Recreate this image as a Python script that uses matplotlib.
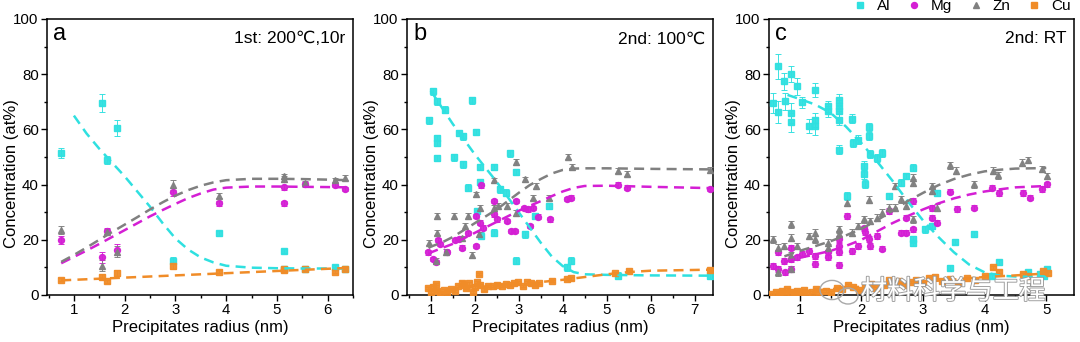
import matplotlib
matplotlib.use('Agg')
import matplotlib.pyplot as plt
import matplotlib.patheffects as pe
from matplotlib.lines import Line2D
from matplotlib.patches import Ellipse
from matplotlib.ticker import MultipleLocator

plt.rcParams['font.family'] = ['Liberation Sans', 'DejaVu Sans']

# ---- (a) 1st: 200C, 10r ----
a_r = [0.74, 1.55, 1.65, 1.85, 2.95, 3.85, 5.15, 5.15, 5.55, 6.15, 6.35]
a_al = [51.5, 69.5, 49, 60.5, 12.5, 22.3, 16, 9.5, 9.6, 10.2, 9.5]
a_mg = [19.8, 13.7, 23.2, 16.4, 37.4, 33.2, 33.2, 39, 40.1, 40, 38.5]
a_zn = [23.5, 10.6, 23, 15.6, 40, 36, 42, 43, 40.5, 41.5, 42.5]
a_cu = [5.5, 6.5, 5, 8, 10.5, 8.5, 9, 9.3, 9.5, 8.5, 9.5]
a_al_err = [1.8, 3.2, 1.5, 3, 1.2, 0.8, 0.8, 0.6, 0.6, 0.6, 0.6]
a_mg_err = [1.5, 2, 1, 2, 1.5, 1, 1, 0.8, 0.8, 0.8, 0.8]
a_zn_err = [1.5, 2, 1, 2, 1.8, 1, 1, 1, 0.8, 0.8, 0.8]
a_cu_err = [0.6, 1, 0.6, 1, 1, 0.6, 0.5, 0.5, 0.5, 0.5, 0.5]

a_fit_r = [0.75, 1.0, 1.25, 1.5, 1.75, 2.0, 2.25, 2.5, 2.75, 3.0, 3.25, 3.5, 3.75, 4.0, 4.5, 5.0, 5.5, 6.0, 6.4]
a_fit_al = [None, 65, 58.5, 53, 48, 43, 37.5, 32, 26, 20.5, 16.5, 13.6, 11.8, 10.6, 9.9, 9.7, 9.6, 9.6, 9.6]
a_fit_zn = [12, 14.5, 17.2, 20, 22.8, 25.5, 28.2, 31, 33.6, 36, 38, 39.6, 40.8, 41.6, 42.1, 42.1, 42, 41.8, 41.6]
a_fit_mg = [11.5, 13.8, 16.1, 18.5, 21, 23.5, 26, 28.5, 30.8, 33, 35.1, 36.8, 38.2, 38.9, 39.3, 39.3, 39.2, 39.1, 39]
a_fit_cu = [5.3, 5.5, 5.7, 5.9, 6.1, 6.3, 6.5, 6.7, 6.9, 7.1, 7.3, 7.5, 7.7, 7.9, 8.3, 8.7, 9.1, 9.5, 9.8]

# ---- (b) 2nd: 100C ----
b_al_r = [0.95, 1.06, 1.14, 1.32, 1.15, 1.15, 1.15, 1.54, 1.65, 1.74, 1.74, 1.85, 1.93, 2.04, 2.05, 2.13,
          2.13, 2.15, 2.43, 2.43, 2.57, 2.72, 2.81, 2.93, 2.93, 3.14, 3.38, 3.7, 4.1, 4.2, 5.26, 7.36]
b_al = [63.3, 73.8, 70.2, 67.1, 56.9, 55.1, 49.7, 49.9, 58.7, 57.5, 47.3, 38.9, 70.5, 59.1, 30.5, 46.4,
        40.9, 21.5, 46.4, 22.6, 38.3, 37.1, 51.3, 44.5, 12.4, 22, 28.6, 32.3, 10, 12.4, 7, 7]
b_mg_r = [0.93, 1.05, 1.12, 1.17, 1.21, 1.36, 1.55, 1.65, 1.72, 1.85, 2.03, 2.04, 2.13, 2.15, 2.18, 2.43,
          2.43, 2.5, 2.74, 2.83, 2.91, 2.93, 3.11, 3.21, 3.25, 3.32, 3.44, 3.72, 4.1, 4.19, 5.27, 5.46, 7.36]
b_mg = [15.4, 13, 12, 20, 18.4, 15.6, 20, 20.2, 17.2, 22.5, 17.8, 28.6, 26.2, 39.7, 24.4, 29.2,
        34, 27.4, 26.8, 23.2, 23.2, 34, 31.6, 31, 25, 31.6, 28.4, 27.4, 34.7, 35.3, 40, 38.9, 38.5]
b_zn_r = [0.95, 1.14, 1.14, 1.12, 1.35, 1.54, 1.7, 1.78, 1.85, 1.93, 2.04, 2.1, 2.13, 2.43,
          2.43, 2.53, 2.74, 2.95, 2.95, 3.14, 3.32, 3.4, 3.7, 4.12, 4.22, 5.27, 5.46, 7.36]
b_zn = [19, 28.6, 22.6, 12.4, 15.5, 28.6, 20.5, 25, 28.6, 14.4, 36.5, 22, 31.6, 41.5,
        31.6, 32.2, 32.2, 48.1, 29.8, 41.9, 35.3, 39.5, 35.3, 50.1, 46.4, 45.1, 44, 45.2]
b_cu_r = [0.93, 1.0, 1.05, 1.12, 1.15, 1.2, 1.31, 1.38, 1.46, 1.55, 1.62, 1.7, 1.76, 1.81, 1.88, 1.95,
          2.0, 2.05, 2.1, 2.13, 2.21, 2.3, 2.41, 2.5, 2.62, 2.71, 2.8, 2.9, 2.98, 3.1, 3.2, 3.28,
          3.37, 3.47, 3.75, 4.1, 4.2, 5.2, 5.5, 7.36]
b_cu = [2.4, 1, 2.8, 4, 1.5, 0.5, 1.8, 1, 2.2, 1.5, 3.2, 4.5, 3.6, 2.5, 4.2, 1,
        2.8, 4.6, 7.6, 3.6, 2, 3.4, 3.2, 3.8, 3.2, 4, 3.5, 4.2, 4.6, 3.4, 4.8, 4.2,
        3.7, 4.4, 5.2, 5.8, 6, 8, 8.8, 9.2]

b_fit_r = [0.95, 1.0, 1.25, 1.5, 1.75, 2.0, 2.25, 2.5, 2.75, 3.0, 3.25, 3.5, 3.75, 4.0, 4.25, 4.5, 5.0, 5.5, 6.0, 7.45]
b_fit_al = [None, 74, 68, 62, 56.5, 51, 46, 41, 35.5, 30, 24.5, 19, 14, 10.5, 8.3, 7.5, 7.3, 7.2, 7.1, 7]
b_fit_zn = [17, 17.5, 19, 21, 23.5, 26, 28.5, 31, 34, 37, 39.8, 42, 44, 45.3, 45.8, 45.9, 45.9, 45.8, 45.7, 45.5]
b_fit_mg = [15, 15.4, 17, 18.5, 20.5, 22.5, 24.5, 26.5, 28.5, 30.5, 32.3, 34, 35.8, 37.5, 38.8, 39.5, 39.6, 39.4, 39.2, 38.7]
b_fit_cu = [None, 1.5, 1.8, 2.2, 2.5, 2.8, 3.1, 3.4, 3.7, 4.0, 4.3, 4.7, 5.1, 5.5, 6.0, 6.5, 7.5, 8.3, 8.8, 9.2]

# ---- (c) 2nd: RT ----
c_al_r = [0.56, 0.65, 0.65, 0.74, 0.76, 0.85, 0.85, 0.85, 0.95, 1.04, 1.15, 1.24, 1.24, 1.24, 1.46, 1.46,
          1.64, 1.64, 1.64, 1.64, 1.64, 1.76, 1.84, 1.86, 1.95, 2.13, 2.13, 2.04, 2.04, 2.05, 2.14, 2.25,
          2.34, 2.44, 2.64, 2.73, 2.84, 2.84, 2.84, 3.03, 3.14, 3.22, 3.43, 3.52, 3.82, 4.12, 4.23, 4.71,
          4.9, 4.97, 5.01]
c_al = [69.6, 82.8, 66.2, 77.4, 70.2, 80.1, 65.9, 62.6, 75.6, 69.8, 61.1, 74.4, 63.5, 61.1, 68.4, 66.5,
        70.8, 68.6, 66.5, 63.5, 52.7, 36, 63.9, 55.1, 56.3, 60.9, 57.5, 46.9, 43.7, 40.3, 51.1, 49.7,
        51.5, 35.9, 40.7, 43.1, 46.1, 20.2, 18.8, 23.8, 25, 37, 9.9, 19.3, 22.1, 7, 11.8, 8.2,
        7.6, 6.9, 9.3]
c_al_err = [3.5, 4.5, 4, 3, 3, 3, 3.5, 3.5, 3, 2, 2.5, 2.5, 2.5, 3, 2, 2,
            2, 2, 2, 2, 1.5, 1.5, 1.5, 1.5, 1.5, 1.5, 1.5, 1.5, 1.5, 1.5, 1.5, 1.5,
            1.5, 1.2, 1.2, 1.2, 1.2, 1.2, 1.2, 1.2, 1.2, 1.2, 1, 1, 1, 1, 1, 1,
            1, 1, 1]
c_mg_r = [0.56, 0.65, 0.65, 0.74, 0.76, 0.85, 0.85, 0.85, 0.95, 1.04, 1.15, 1.24, 1.24, 1.46, 1.46, 1.64,
          1.64, 1.64, 1.64, 1.76, 1.84, 1.95, 2.04, 2.05, 2.13, 2.14, 2.25, 2.34, 2.44, 2.64, 2.73, 2.73,
          2.84, 2.84, 3.14, 3.14, 3.22, 3.44, 3.55, 3.82, 4.12, 4.23, 4.63, 4.74, 4.93, 5.01]
c_mg = [10.6, 15.4, 9.4, 12.4, 8.2, 17.2, 13, 9.4, 13.6, 14.8, 16, 14.2, 11.2, 15.4, 13.6, 20.2,
        17.8, 15.4, 10.8, 28.6, 16, 17.8, 24.1, 22.9, 20.2, 17.8, 21.4, 16.8, 30.4, 22.6, 22.6, 28,
        34, 23.8, 31.6, 28, 26.2, 37.5, 31.1, 31.7, 38.9, 37, 37, 35.3, 38.5, 40.1]
c_zn_r = [0.56, 0.65, 0.65, 0.74, 0.85, 0.85, 0.85, 0.85, 0.95, 1.15, 1.24, 1.24, 1.46, 1.46, 1.64, 1.64,
          1.76, 1.84, 1.95, 2.04, 2.13, 2.14, 2.25, 2.34, 2.44, 2.55, 2.55, 2.64, 2.73, 2.84, 2.84, 2.84,
          3.14, 3.14, 3.22, 3.43, 3.54, 3.83, 4.13, 4.21, 4.6, 4.71, 4.93, 5.01]
c_zn = [20.2, 17.2, 8.2, 17.8, 25.6, 20.8, 14.2, 9.4, 17.8, 21.4, 22.6, 20.2, 19, 17.2, 23.8, 22,
        33.5, 22.6, 25, 27.4, 34.5, 26.8, 28, 29.8, 31.6, 39.5, 31.6, 34.7, 32.2, 42.5, 40.7, 27.4,
        39.5, 37.7, 31.7, 47, 45, 40.1, 45, 43.3, 47.9, 48.9, 45.6, 43.1]
c_cu_r = [0.54, 0.61, 0.66, 0.71, 0.76, 0.8, 0.86, 0.9, 0.96, 1.01, 1.06, 1.12, 1.19, 1.26, 1.31, 1.42,
          1.51, 1.61, 1.69, 1.79, 1.86, 1.96, 2.05, 2.16, 2.24, 2.36, 2.45, 2.53, 2.61, 2.7, 2.81, 2.89,
          3.0, 3.09, 3.19, 3.31, 3.44, 3.56, 3.71, 3.84, 4.01, 4.14, 4.24, 4.62, 4.71, 4.94, 5.02]
c_cu = [0.5, 1, 0.5, 1.5, 0.8, 2, 1.2, 0.5, 1.5, 0.8, 1.8, 0.6, 1.2, 2, 0.8, 1.5,
        1.0, 2.5, 2.0, 3.5, 2.8, 1.8, 3.2, 4.0, 2.5, 3.5, 5.5, 4.5, 5.2, 3.8, 4.8, 5.5,
        4.2, 6.0, 6.5, 5.0, 5.8, 4.5, 6.2, 5.5, 7.0, 10.0, 8.5, 7.5, 6.8, 8.8, 7.8]

c_fit_r = [0.75, 0.8, 1.0, 1.25, 1.5, 1.75, 2.0, 2.25, 2.5, 2.75, 3.0, 3.25, 3.5, 3.75, 4.0, 4.25, 4.5, 5.0]
c_fit_al = [None, 72.5, 71, 69, 66, 61, 55, 48.5, 41.5, 34, 27, 21, 15.5, 11, 8.2, 7, 6.7, 6.5]
c_fit_zn = [14, 14.4, 16, 17.7, 19.5, 21.6, 24, 27, 30.5, 34, 37, 39.8, 42, 43.6, 44.8, 45.4, 45.8, 46]
c_fit_mg = [12, 12.3, 13.5, 14.7, 16, 17.8, 20, 23, 26, 28.6, 31, 33.2, 35, 36.4, 37.5, 38.3, 39, 39.5]
c_fit_cu = [1.0, 1.05, 1.3, 1.7, 2.1, 2.6, 3, 3.5, 3.9, 4.4, 4.8, 5.2, 5.6, 6.1, 6.5, 6.8, 7.1, 7.8]

elements = ['Al', 'Mg', 'Zn', 'Cu']
colors = {'Al': '#2fe0e0', 'Mg': '#d41fd4', 'Zn': '#808080', 'Cu': '#f08c28'}
markers = {'Al': 's', 'Mg': 'o', 'Zn': '^', 'Cu': 's'}

panels = [
    dict(letter='a', note='1st: 200℃,10r', xlim=(0.47, 6.5), xmax_tick=6,
         pts={'Al': (a_r, a_al, a_al_err), 'Mg': (a_r, a_mg, a_mg_err),
              'Zn': (a_r, a_zn, a_zn_err), 'Cu': (a_r, a_cu, a_cu_err)},
         fit_r=a_fit_r, fits={'Al': a_fit_al, 'Mg': a_fit_mg, 'Zn': a_fit_zn, 'Cu': a_fit_cu}),
    dict(letter='b', note='2nd: 100℃', xlim=(0.46, 7.42), xmax_tick=7,
         pts={'Al': (b_al_r, b_al, 1.2), 'Mg': (b_mg_r, b_mg, 0.8),
              'Zn': (b_zn_r, b_zn, 1.0), 'Cu': (b_cu_r, b_cu, 0.4)},
         fit_r=b_fit_r, fits={'Al': b_fit_al, 'Mg': b_fit_mg, 'Zn': b_fit_zn, 'Cu': b_fit_cu}),
    dict(letter='c', note='2nd: RT', xlim=(0.5, 5.45), xmax_tick=5,
         pts={'Al': (c_al_r, c_al, c_al_err), 'Mg': (c_mg_r, c_mg, 1.0),
              'Zn': (c_zn_r, c_zn, 1.2), 'Cu': (c_cu_r, c_cu, 0.4)},
         fit_r=c_fit_r, fits={'Al': c_fit_al, 'Mg': c_fit_mg, 'Zn': c_fit_zn, 'Cu': c_fit_cu}),
]

fig = plt.figure(figsize=(10.8, 3.42), dpi=100)
lefts = [47, 407, 769]
widths = [306, 306, 305]

for p, left, w in zip(panels, lefts, widths):
    ax = fig.add_axes([left / 1080, 1 - 295 / 342, w / 1080, 276 / 342])
    for el in elements:
        r, y, err = p['pts'][el]
        ax.errorbar(r, y, yerr=err, fmt=markers[el], ms=4.3, color=colors[el],
                    ecolor=colors[el], elinewidth=0.7, capsize=2, capthick=0.7,
                    zorder=3, alpha=0.95)
    for el in elements:
        fr = [x for x, v in zip(p['fit_r'], p['fits'][el]) if v is not None]
        fv = [v for v in p['fits'][el] if v is not None]
        ax.plot(fr, fv, ls=(0, (4, 2.5)), lw=1.8, color=colors[el], zorder=4)

    ax.set_xlim(*p['xlim'])
    ax.set_ylim(0, 100)
    ax.set_xticks(range(1, p['xmax_tick'] + 1))
    ax.xaxis.set_minor_locator(MultipleLocator(0.5))
    ax.yaxis.set_major_locator(MultipleLocator(20))
    ax.yaxis.set_minor_locator(MultipleLocator(10))
    ax.tick_params(which='major', direction='out', length=4, width=1, labelsize=10.8, pad=2)
    ax.tick_params(which='minor', direction='out', length=2, width=1)
    for s in ax.spines.values():
        s.set_linewidth(1.1)
    ax.set_xlabel('Precipitates radius (nm)', fontsize=12, labelpad=2)
    ax.set_ylabel('Concentration (at%)', fontsize=12)
    ax.yaxis.set_label_coords(-0.092, 0.44)
    ax.text(0.02, 0.985, p['letter'], transform=ax.transAxes, fontsize=17,
            ha='left', va='top')
    ax.text(0.975, 0.955, p['note'], transform=ax.transAxes, fontsize=12.5,
            ha='right', va='top')

# shared legend above the right-hand panel
handles = [Line2D([], [], ls='none', marker=markers[el], ms=4.3, color=colors[el])
           for el in elements]
fig.legend(handles, elements, loc='upper right', bbox_to_anchor=(1.0, 1.03), ncol=4,
           frameon=False, fontsize=11, handletextpad=0.8, columnspacing=1.25,
           handlelength=0.6, borderaxespad=0.2)

# watermark with small chat-bubble logo
fig.text(0.797, 0.148, '材料科学与工程', fontsize=19, family=['Noto Sans CJK SC'],
         color='white', va='center', ha='left', zorder=10,
         path_effects=[pe.withStroke(linewidth=1.3, foreground='#9a9a9a')])
for cx, cy, ew in [(832, 290, 24), (848, 296, 20)]:
    fig.patches.append(Ellipse((cx / 1080, 1 - cy / 342), ew / 1080, (ew * 0.8) / 342,
                               transform=fig.transFigure, fill=False,
                               edgecolor='#a8a8a8', lw=1.0, zorder=10))

fig.savefig('out.png', dpi=100)
